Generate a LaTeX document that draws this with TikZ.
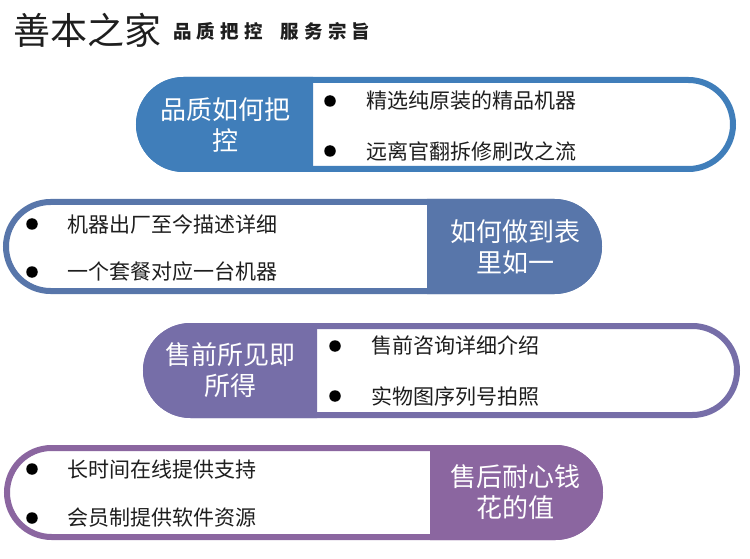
\documentclass[tikz,border=0pt]{standalone}
\usepackage{fontspec}
\setmainfont{Noto Sans CJK SC}
\usetikzlibrary{shapes.misc,positioning}
\definecolor{panelA}{RGB}{64,126,186}
\definecolor{panelB}{RGB}{88,118,170}
\definecolor{panelC}{RGB}{118,110,168}
\definecolor{panelD}{RGB}{139,102,160}
\definecolor{inktext}{RGB}{30,30,30}
\begin{document}
\begin{tikzpicture}[x=1pt,y=1pt,
  pill/.style={rounded rectangle,line width=6pt,fill=white,inner sep=0pt,minimum height=89pt},
  tag/.style={text=white,align=center,font=\fontsize{26}{31}\selectfont},
  dot/.style={circle,fill=black,inner sep=0pt,minimum size=11.5pt},
  item/.style={anchor=west,text=inktext,font=\fontsize{21}{24}\selectfont,inner sep=0pt}]
\useasboundingbox (0,0) rectangle (750,558);
% heading
\node[anchor=west,inner sep=0pt,text=inktext,font=\fontsize{37}{40}\selectfont] (title) at (13,528) {善本之家};
\node[anchor=west,inner sep=0pt,text=inktext,font=\fontsize{18.5}{20}\selectfont\bfseries\addfontfeature{LetterSpace=28}] (motto) at (173,527) {品质把控\hspace{18pt}服务宗旨};
% panel 1
\node[pill,draw=panelA,minimum width=594pt] (pa) at (436,433.5) {};
\fill[panelA] (313,481) -- (183.5,481) arc[start angle=90,end angle=270,radius=47.5] -- (313,386) -- cycle;
\node[tag] (ta) at (225,433) {品质如何把\\控};
\node[dot] (da1) at (330,457) {};
\node[dot] (da2) at (330,407) {};
\node[item] (ia1) at (366,457) {精选纯原装的精品机器};
\node[item] (ia2) at (366,407) {远离官翻拆修刷改之流};
% panel 2
\node[pill,draw=panelB,minimum width=593pt] (pb) at (302.5,311.5) {};
\fill[panelB] (427,359) -- (554.5,359) arc[start angle=90,end angle=-90,radius=47.5] -- (427,264) -- cycle;
\node[tag] (tb) at (515,311) {如何做到表\\里如一};
\node[dot] (db1) at (32,334) {};
\node[dot] (db2) at (32,286) {};
\node[item] (ib1) at (67,334) {机器出厂至今描述详细};
\node[item] (ib2) at (67,286) {一个套餐对应一台机器};
% panel 3
\node[pill,draw=panelC,minimum width=591pt] (pc) at (441.5,187.5) {};
\fill[panelC] (317,235) -- (190.5,235) arc[start angle=90,end angle=270,radius=47.5] -- (317,140) -- cycle;
\node[tag] (tc) at (230,188) {售前所见即\\所得};
\node[dot] (dc1) at (335,212) {};
\node[dot] (dc2) at (335,162) {};
\node[item] (ic1) at (371,212) {售前咨询详细介绍};
\node[item] (ic2) at (371,162) {实物图序列号拍照};
% panel 4
\node[pill,draw=panelD,minimum width=593pt] (pd) at (303.5,65.5) {};
\fill[panelD] (430,113) -- (555.5,113) arc[start angle=90,end angle=-90,radius=47.5] -- (430,18) -- cycle;
\node[tag] (td) at (515,66) {售后耐心钱\\花的值};
\node[dot] (dd1) at (32,89) {};
\node[dot] (dd2) at (32,40) {};
\node[item] (id1) at (67,89) {长时间在线提供支持};
\node[item] (id2) at (67,40) {会员制提供软件资源};
\end{tikzpicture}
\end{document}
